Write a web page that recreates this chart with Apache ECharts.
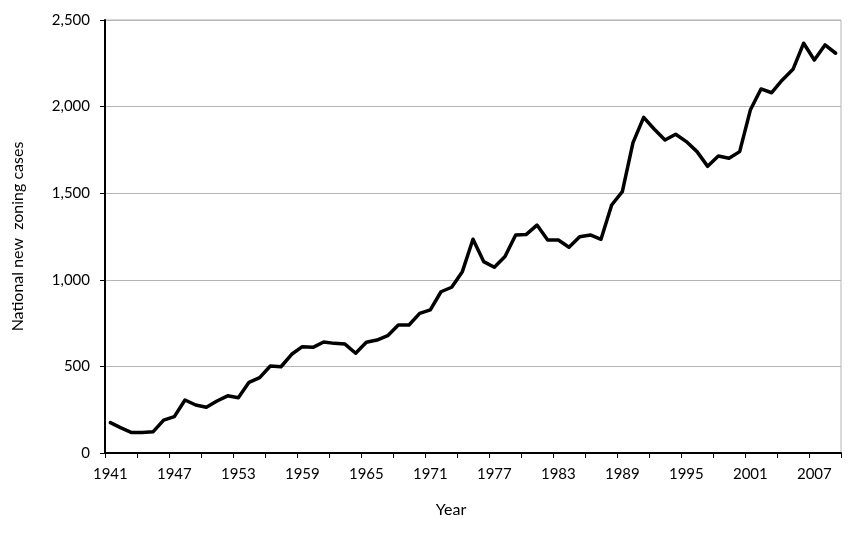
<!DOCTYPE html>
<html>
<head>
<meta charset="utf-8">
<script src="https://cdn.jsdelivr.net/npm/echarts@6/dist/echarts.min.js"></script>
<style>html,body{margin:0;padding:0;background:#fff;}#chart{width:861px;height:537px;}</style>
</head>
<body>
<div id="chart"></div>
<script>
const years = [];
for (let y = 1941; y <= 2009; y++) years.push(String(y));

const cases = [
  175, 145, 118, 118, 122, 190, 210, 306, 277, 264,
  300, 330, 319, 408, 435, 502, 498, 570, 614, 610,
  641, 633, 629, 576, 639, 652, 677, 739, 739, 806,
  826, 931, 957, 1047, 1234, 1105, 1072, 1134, 1259, 1262,
  1316, 1230, 1230, 1188, 1249, 1259, 1234, 1432, 1509, 1792,
  1938, 1869, 1807, 1840, 1798, 1740, 1655, 1715, 1702, 1740,
  1980, 2102, 2080, 2154, 2215, 2366, 2269, 2356, 2308
];

const yTicks = [0, 500, 1000, 1500, 2000, 2500];

const font = 'Lato, "Open Sans", sans-serif';
const chart = echarts.init(document.getElementById('chart'));
chart.setOption({
  backgroundColor: '#ffffff',
  animation: false,
  grid: { left: 105, right: 20, top: 20, bottom: 84, show: true, borderColor: '#b5b5b5', borderWidth: 1 },
  xAxis: {
    type: 'category',
    data: years,
    boundaryGap: true,
    name: 'Year',
    nameLocation: 'middle',
    nameGap: 49,
    nameTextStyle: { fontFamily: font, fontSize: 16, color: '#000', padding: [0, 44, 0, 0] },
    axisLine: { lineStyle: { color: '#000', width: 2 } },
    axisTick: { show: true, interval: 2, length: 5, lineStyle: { color: '#000', width: 1 } },
    axisLabel: { interval: 5, margin: 14, fontFamily: font, fontSize: 15, color: '#000' },
    splitLine: { show: false }
  },
  yAxis: {
    type: 'value',
    min: yTicks[0],
    max: yTicks[yTicks.length - 1],
    interval: 500,
    name: 'National new  zoning cases',
    nameLocation: 'middle',
    nameGap: 79,
    nameTextStyle: { fontFamily: font, fontSize: 16, color: '#000' },
    axisLine: { show: true, lineStyle: { color: '#000', width: 2 } },
    axisTick: { show: true, length: 5, lineStyle: { color: '#000', width: 1 } },
    axisLabel: {
      margin: 15, fontFamily: font, fontSize: 15, color: '#000',
      formatter: v => v.toLocaleString('en-US')
    },
    splitLine: { show: true, lineStyle: { color: '#b5b5b5', width: 1 } }
  },
  series: [{
    type: 'line',
    data: cases,
    showSymbol: false,
    symbol: 'none',
    lineStyle: { color: '#000', width: 3.5, join: 'round', cap: 'round' },
    z: 5
  }]
});
</script>
</body>
</html>
